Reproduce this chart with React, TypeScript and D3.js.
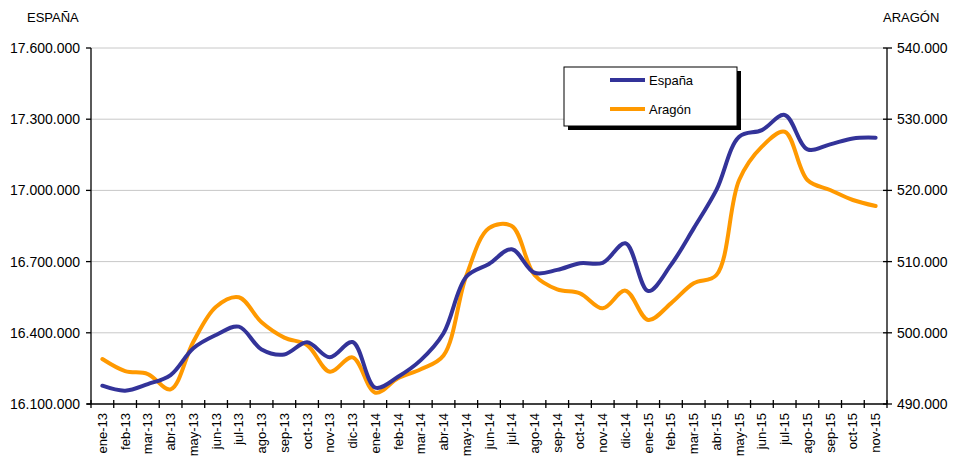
import React from "react";
import * as d3 from "d3";

const months = ["ene-13","feb-13","mar-13","abr-13","may-13","jun-13","jul-13","ago-13","sep-13","oct-13","nov-13","dic-13",
"ene-14","feb-14","mar-14","abr-14","may-14","jun-14","jul-14","ago-14","sep-14","oct-14","nov-14","dic-14",
"ene-15","feb-15","mar-15","abr-15","may-15","jun-15","jul-15","ago-15","sep-15","oct-15","nov-15"];

const espana = [16177000,16156000,16184000,16222000,16335000,16391000,16426000,16330000,16309000,16360000,16297000,16361000,
16169000,16215000,16285000,16398000,16636000,16690000,16752000,16653000,16665000,16693000,16695000,16777000,
16576000,16686000,16840000,17002000,17226000,17254000,17318000,17173000,17194000,17219000,17222000];

const aragon = [496320,494630,494210,492060,498750,503670,504990,501470,499320,498290,494540,496550,
491590,493610,494870,496800,508000,514700,515000,508120,506100,505550,503440,505920,
501800,504140,506950,508120,521460,526140,528240,521460,520060,518650,517810];

const leftTicks = [16100000,16400000,16700000,17000000,17300000,17600000];
const rightTicks = [490000,500000,510000,520000,530000,540000];

const fmt = (v: number) => d3.format(",")(v).replace(/,/g, ".");

export default function App() {
  const W = 960, H = 458;
  const L = 91, R = 887, T = 48, B = 404;
  const x = d3.scaleBand<string>().domain(months).range([L, R]);
  const yL = d3.scaleLinear().domain([16100000, 17600000]).range([B, T]);
  const yR = d3.scaleLinear().domain([490000, 540000]).range([B, T]);
  const cx = (i: number) => (x(months[i]) as number) + x.bandwidth() / 2;
  const curve = d3.curveCatmullRom.alpha(0.5);
  const lineE = d3.line<number>().x((_, i) => cx(i)).y(d => yL(d)).curve(curve);
  const lineA = d3.line<number>().x((_, i) => cx(i)).y(d => yR(d)).curve(curve);
  const font = "Arial, 'Liberation Sans', sans-serif";
  const tickEdges = months.map(m => x(m) as number).concat([R]);

  return (
    <svg width={W} height={H} style={{ position: "absolute", left: 0, top: 0, background: "#fff" }} fontFamily={font}>
      <rect x={0} y={0} width={W} height={H} fill="#fff" />
      {leftTicks.slice(1, -1).map(t => (
        <line key={t} x1={L} x2={R} y1={yL(t)} y2={yL(t)} stroke="#c8c8c8" strokeWidth={1} />
      ))}
      <line x1={L} x2={R} y1={T} y2={T} stroke="#c8c8c8" strokeWidth={1} />
      {/* left axis */}
      <line x1={L} x2={L} y1={T} y2={B} stroke="#000" strokeWidth={1.3} />
      {leftTicks.map(t => (
        <g key={t}>
          <line x1={L - 5} x2={L} y1={yL(t)} y2={yL(t)} stroke="#000" strokeWidth={1.3} />
          <text x={80} y={yL(t)} dy="0.36em" textAnchor="end" fontSize={14} fill="#000">{fmt(t)}</text>
        </g>
      ))}
      {/* right axis */}
      <line x1={R} x2={R} y1={T} y2={B} stroke="#000" strokeWidth={1.3} />
      {rightTicks.map(t => (
        <g key={t}>
          <line x1={R - 4} x2={R + 5} y1={yR(t)} y2={yR(t)} stroke="#000" strokeWidth={1.3} />
          <text x={897} y={yR(t)} dy="0.36em" textAnchor="start" fontSize={14} fill="#000">{fmt(t)}</text>
        </g>
      ))}
      {/* bottom axis */}
      <line x1={L - 4} x2={R} y1={B} y2={B} stroke="#000" strokeWidth={1.3} />
      {tickEdges.map((e, i) => (
        <line key={i} x1={e} x2={e} y1={B - 4} y2={B + 4} stroke="#000" strokeWidth={1.3} />
      ))}
      {months.map((m, i) => (
        <text key={m} transform={`translate(${cx(i) + 4.5},413) rotate(-90)`} textAnchor="end" fontSize={13} fill="#000">{m}</text>
      ))}
      <text x={27} y={22} fontSize={13} fill="#000">ESPAÑA</text>
      <text x={883} y={22} fontSize={13} fill="#000">ARAGÓN</text>
      {/* lines */}
      <path d={lineA(aragon) || ""} fill="none" stroke="#FF9900" strokeWidth={4} strokeLinejoin="round" strokeLinecap="round" />
      <path d={lineE(espana) || ""} fill="none" stroke="#333399" strokeWidth={4} strokeLinejoin="round" strokeLinecap="round" />
      {/* legend */}
      <rect x={568} y={71} width={173} height={59} fill="#000" />
      <rect x={564} y={67} width={173} height={59} fill="#fff" stroke="#000" strokeWidth={1} />
      <line x1={610} x2={645} y1={80} y2={80} stroke="#333399" strokeWidth={4} />
      <text x={649} y={80} dy="0.36em" fontSize={13} fill="#000">España</text>
      <line x1={610} x2={645} y1={109} y2={109} stroke="#FF9900" strokeWidth={4} />
      <text x={649} y={109} dy="0.36em" fontSize={13} fill="#000">Aragón</text>
    </svg>
  );
}
